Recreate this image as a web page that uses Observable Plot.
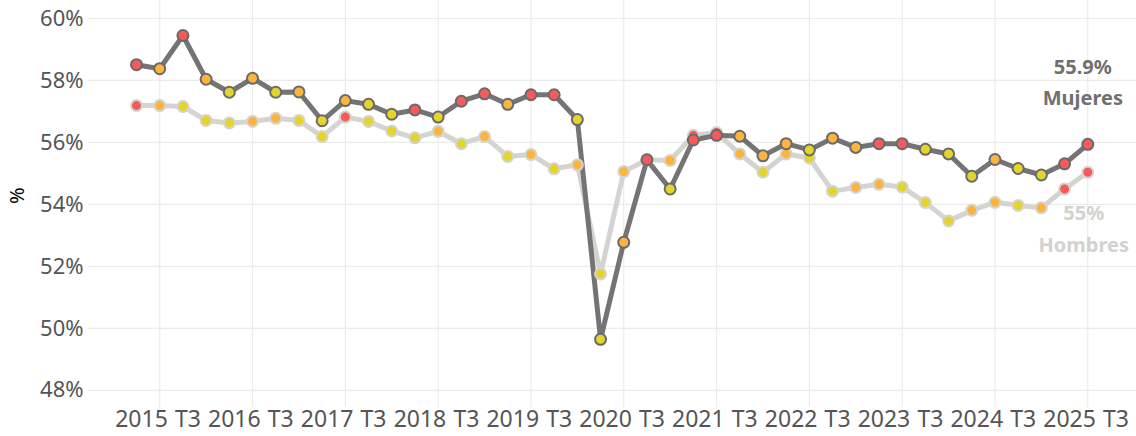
<!DOCTYPE html>
<html>
<head>
<meta charset="utf-8">
<script src="https://cdn.jsdelivr.net/npm/d3@7"></script>
<script src="https://cdn.jsdelivr.net/npm/@observablehq/plot@0.6"></script>
<style>
  html, body { margin: 0; padding: 0; background: #ffffff; }
</style>
</head>
<body>
<div id="chart"></div>
<script>
const quarters = [
  "2015 T1","2015 T2","2015 T3","2015 T4",
  "2016 T1","2016 T2","2016 T3","2016 T4",
  "2017 T1","2017 T2","2017 T3","2017 T4",
  "2018 T1","2018 T2","2018 T3","2018 T4",
  "2019 T1","2019 T2","2019 T3","2019 T4",
  "2020 T1","2020 T2","2020 T3","2020 T4",
  "2021 T1","2021 T2","2021 T3","2021 T4",
  "2022 T1","2022 T2","2022 T3","2022 T4",
  "2023 T1","2023 T2","2023 T3","2023 T4",
  "2024 T1","2024 T2","2024 T3","2024 T4",
  "2025 T1","2025 T2"
];

const mujeres = [
  58.51, 58.38, 59.45, 58.04, 57.62, 58.07, 57.62, 57.63, 56.70, 57.35,
  57.23, 56.91, 57.05, 56.82, 57.33, 57.57, 57.23, 57.54, 57.54, 56.74,
  49.65, 52.78, 55.44, 54.50, 56.08, 56.23, 56.20, 55.57, 55.96, 55.76,
  56.14, 55.84, 55.96, 55.96, 55.78, 55.63, 54.91, 55.45, 55.16, 54.95,
  55.31, 55.94
];
const hombres = [
  57.19, 57.19, 57.16, 56.71, 56.63, 56.68, 56.78, 56.71, 56.19, 56.82,
  56.68, 56.37, 56.15, 56.36, 55.96, 56.19, 55.55, 55.61, 55.15, 55.28,
  51.76, 55.06, 55.44, 55.42, 56.23, 56.32, 55.63, 55.04, 55.63, 55.50,
  54.43, 54.55, 54.65, 54.56, 54.06, 53.47, 53.81, 54.07, 53.97, 53.89,
  54.50, 55.04
];
// point colour category: R = rojo, O = naranja, Y = amarillo
const mujeresColor = [
  "R","O","R","O","Y","O","Y","O","Y","O",
  "Y","Y","R","Y","R","R","O","R","R","Y",
  "Y","O","R","Y","R","R","O","O","O","Y",
  "O","O","R","R","Y","Y","Y","O","Y","Y",
  "R","R"
];
const hombresColor = [
  "R","O","Y","Y","Y","O","O","Y","Y","R",
  "Y","Y","Y","O","Y","O","Y","O","Y","O",
  "Y","O","R","O","R","R","O","Y","O","Y",
  "Y","O","O","Y","Y","Y","O","O","Y","O",
  "R","R"
];
const yTicks = [48, 50, 52, 54, 56, 58, 60];
const xTickLabels = [
  "2015","T3","2016","T3","2017","T3","2018","T3","2019","T3","2020","T3",
  "2021","T3","2022","T3","2023","T3","2024","T3","2025","T3"
];
const seriesNames = ["Mujeres", "Hombres"];

const xTicks = xTickLabels.map((_, k) => k * 2);
const gridIdx = quarters.map((_, i) => i).filter(i => i % 4 === 1);

const mData = quarters.map((q, i) => ({i, q, v: mujeres[i], c: mujeresColor[i]}));
const hData = quarters.map((q, i) => ({i, q, v: hombres[i], c: hombresColor[i]}));
const mLast = mData[mData.length - 1];
const hLast = hData[hData.length - 1];
const fmt = d3.format(".1~f");

const FONT = "'Noto Sans', 'Open Sans', sans-serif";
const M_COL = "#747474";
const H_COL = "#d4d4d0";

const chart = Plot.plot({
  width: 1136,
  height: 436,
  marginLeft: 88,
  marginRight: 0,
  marginTop: 0,
  marginBottom: 29,
  style: {fontFamily: FONT, background: "#ffffff", overflow: "visible"},
  x: {type: "linear", domain: [-2.07, 43.1], axis: null},
  y: {domain: [47.45, 60.58], axis: null},
  color: {domain: ["R", "O", "Y"], range: ["#f75a5a", "#fdb43e", "#e3d52b"]},
  marks: [
    Plot.ruleX(gridIdx, {x: d => d, stroke: "#ebebeb", strokeWidth: 1.2}),
    Plot.ruleY(yTicks, {y: d => d, stroke: "#ebebeb", strokeWidth: 1.2}),
    Plot.axisY(yTicks, {
      tickSize: 0, tickPadding: 5, tickFormat: d => d + "%",
      fontSize: 22, fill: "#555555", label: null
    }),
    Plot.axisX(xTicks, {
      tickSize: 0, tickPadding: 3, tickFormat: d => xTickLabels[d / 2],
      fontSize: 23, fill: "#555555", label: null, dx: 5
    }),
    Plot.text(["%"], {frameAnchor: "left", dx: -71, rotate: -90, fontSize: 20, fill: "#000000"}),
    Plot.line(hData, {x: "i", y: "v", stroke: H_COL, strokeWidth: 5, strokeLinejoin: "round"}),
    Plot.line(mData, {x: "i", y: "v", stroke: M_COL, strokeWidth: 5, strokeLinejoin: "round"}),
    Plot.dot(hData, {x: "i", y: "v", fill: "c", r: 5.5, stroke: H_COL, strokeWidth: 2}),
    Plot.dot(mData, {x: "i", y: "v", fill: "c", r: 5.5, stroke: "#6a6a6a", strokeWidth: 2}),
    Plot.text([mLast], {x: "i", y: "v", text: d => fmt(d.v) + "%", dx: -5, dy: -77,
      fontSize: 20, fontWeight: "bold", fill: "#707070"}),
    Plot.text([mLast], {x: "i", y: "v", text: () => seriesNames[0], dx: -5, dy: -46,
      fontSize: 20, fontWeight: "bold", fill: "#707070"}),
    Plot.text([hLast], {x: "i", y: "v", text: d => fmt(d.v) + "%", dx: -4, dy: 41,
      fontSize: 20, fontWeight: "bold", fill: "#d2d2ce"}),
    Plot.text([hLast], {x: "i", y: "v", text: () => seriesNames[1], dx: -4, dy: 73,
      fontSize: 20, fontWeight: "bold", fill: "#d2d2ce"})
  ]
});
document.getElementById("chart").appendChild(chart);
</script>
</body>
</html>
